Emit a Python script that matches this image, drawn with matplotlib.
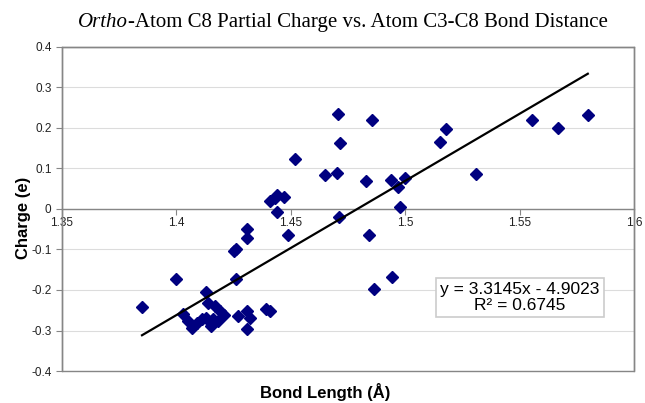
import numpy as np
import matplotlib
matplotlib.use("Agg")
import matplotlib.pyplot as plt
from matplotlib.patches import Rectangle

# bond length (A) and partial charge (e)
bond_length = [1.385, 1.400, 1.403, 1.405, 1.407, 1.409, 1.411, 1.413, 1.413, 1.414,
               1.415, 1.416, 1.417, 1.418, 1.419, 1.421, 1.425, 1.426, 1.426, 1.427,
               1.431, 1.431, 1.431, 1.432, 1.431, 1.441, 1.439, 1.441, 1.443, 1.444,
               1.447, 1.444, 1.449, 1.452, 1.465, 1.470, 1.4705, 1.4715, 1.471, 1.483,
               1.484, 1.4854, 1.4865, 1.494, 1.4941, 1.497, 1.4977, 1.500, 1.5152, 1.5178,
               1.5308, 1.5553, 1.5669, 1.5798]
charge = [-0.241, -0.172, -0.260, -0.277, -0.293, -0.281, -0.272, -0.268, -0.206, -0.231,
          -0.289, -0.272, -0.240, -0.277, -0.252, -0.262, -0.104, -0.098, -0.172, -0.264,
          -0.049, -0.071, -0.252, -0.268, -0.297, -0.252, -0.248, 0.020, 0.028, 0.034,
          0.030, -0.007, -0.063, 0.123, 0.084, 0.090, 0.234, 0.164, -0.019, 0.068,
          -0.065, 0.220, -0.197, 0.072, -0.168, 0.054, 0.005, 0.077, 0.166, 0.198,
          0.087, 0.219, 0.199, 0.231]

slope = 3.3145
intercept = -4.9023
r_squared = 0.6745

x_ticks = [1.35, 1.4, 1.45, 1.5, 1.55, 1.6]
x_labels = ["1.35", "1.4", "1.45", "1.5", "1.55", "1.6"]
y_ticks = [-0.4, -0.3, -0.2, -0.1, 0, 0.1, 0.2, 0.3, 0.4]
y_labels = ["-0.4", "-0.3", "-0.2", "-0.1", "0", "0.1", "0.2", "0.3", "0.4"]

plt.rcParams['font.family'] = ['Liberation Sans', 'DejaVu Sans']

fig = plt.figure(figsize=(6.45, 4.03), dpi=100)
ax = fig.add_axes([0.096, 0.0794, 0.887, 0.804])

grey = '#868686'
ax.set_xlim(1.35, 1.6)
ax.set_ylim(-0.4, 0.4)
ax.set_yticks(y_ticks)
ax.set_yticklabels(y_labels)
ax.set_xticks(x_ticks)
ax.set_xticklabels(x_labels)
ax.grid(axis='y', color='#dcdcdc', linewidth=0.8)
ax.set_axisbelow(True)

ax.spines['bottom'].set_position(('data', 0))
for side in ['top', 'right', 'left', 'bottom']:
    ax.spines[side].set_color(grey)
    ax.spines[side].set_linewidth(1.0)
ax.add_patch(Rectangle((0, 0), 1, 1, transform=ax.transAxes, fill=False,
                       edgecolor=grey, linewidth=1.0, clip_on=False, zorder=3))
ax.tick_params(axis='both', direction='out', length=4, color=grey,
               labelsize=8.5, labelcolor='#222222')
ax.tick_params(axis='x', pad=2)

ax.plot(bond_length, charge, linestyle='none', marker='D', markersize=6.3,
        color='#000080', zorder=4)

xs = np.array([min(bond_length), max(bond_length)])
ax.plot(xs, slope * xs + intercept, color='black', linewidth=1.6, zorder=5)

ax.text(1.550, -0.2185, f"y = {slope:.4f}x - {abs(intercept):.4f}\nR\u00b2 = {r_squared:.4f}",
        ha='center', va='center', fontsize=12.5, linespacing=1.05, zorder=6,
        bbox=dict(boxstyle='square,pad=0.25', facecolor='white', edgecolor='#cccccc',
                  linewidth=1.2))

# title: italic "Ortho" followed by upright text, centred as one piece
title_y = 0.945
t1 = fig.text(0, title_y, "Ortho", family='Liberation Serif', style='italic',
              fontsize=15, va='center')
t2 = fig.text(0, title_y, "-Atom C8 Partial Charge vs. Atom C3-C8 Bond Distance",
              family='Liberation Serif', fontsize=15, va='center')
renderer = fig.canvas.get_renderer()
w1 = t1.get_window_extent(renderer).width / fig.bbox.width
w2 = t2.get_window_extent(renderer).width / fig.bbox.width
x0 = 0.532 - (w1 + w2) / 2
t1.set_x(x0)
t2.set_x(x0 + w1)

fig.text(0.504, 0.027, "Bond Length (\u00c5)", ha='center', va='center',
         fontsize=12, fontweight='bold')
fig.text(0.036, 0.46, "Charge (e)", ha='center', va='center', rotation=90,
         fontsize=12, fontweight='bold')

fig.savefig("out.png", dpi=100)
